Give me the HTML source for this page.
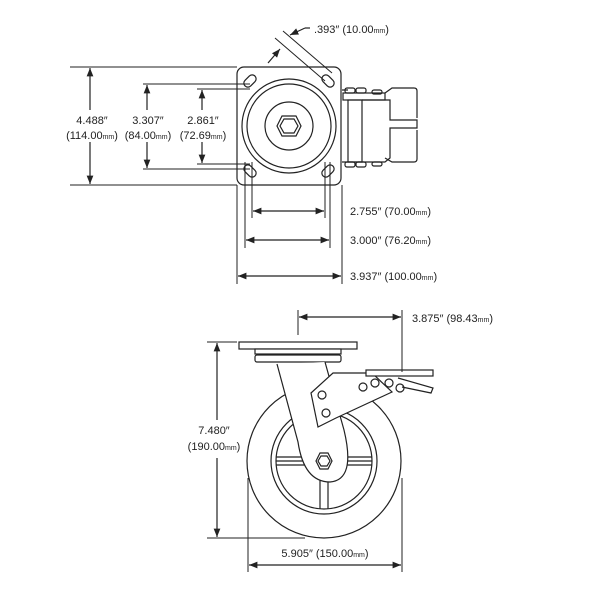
<!DOCTYPE html>
<html><head><style>
body{margin:0;background:#fff;}
svg{display:block;}
text{font-family:"Liberation Sans",sans-serif;font-size:11px;fill:#222;}
.s{font-size:7px;}
</style></head><body>
<svg width="600" height="600" viewBox="0 0 600 600" xmlns="http://www.w3.org/2000/svg">
<defs>
<marker id="a" viewBox="0 0 10 10" refX="10" refY="5" markerWidth="7" markerHeight="7" orient="auto-start-reverse"><path d="M0,1 L10,5 L0,9 z" fill="#222"/></marker>
</defs>
<g stroke="#222" fill="none" stroke-width="1.2">
<!-- TOP VIEW -->
<rect x="237" y="67" width="104" height="118" rx="7" fill="#fff"/>
<circle cx="289" cy="126" r="47"/>
<circle cx="289" cy="126" r="42"/>
<circle cx="289" cy="126" r="24"/>
<polygon points="282,116 296,116 301,126 296,136 282,136 277,126"/>
<polygon points="284,119 294,119 298,126 294,133 284,133 280,126"/>
<rect x="243" y="77" width="14" height="8" rx="4" transform="rotate(-45 250 81)"/>
<rect x="321" y="77" width="14" height="8" rx="4" transform="rotate(45 328 81)"/>
<rect x="243" y="167" width="14" height="8" rx="4" transform="rotate(45 250 171)"/>
<rect x="321" y="167" width="14" height="8" rx="4" transform="rotate(-45 328 171)"/>
<!-- brake side -->
<path d="M342,90 H348 M342,162 H362"/>
<rect x="343" y="93" width="42" height="7"/>
<rect x="348" y="100" width="14" height="62"/>
<path d="M362,100 H390 V120 H417 V128 H390 V158 L385,162 H362"/>
<path d="M385,93 L392,88 H414 Q417,88 417,91 V118 M417,130 V159 Q417,162 414,162 H392 L385,158"/>
<rect x="345" y="88" width="10" height="5" rx="2"/><rect x="356" y="88" width="10" height="5" rx="2"/><rect x="372" y="90" width="10" height="4" rx="2"/>
<rect x="345" y="162" width="10" height="5" rx="2"/><rect x="356" y="162" width="10" height="5" rx="2"/><rect x="372" y="162" width="10" height="4" rx="2"/>
<!-- diag .393 -->
<path d="M275,38 L325,81 M283,31 L332,73" stroke-width="1"/>
<path d="M268,63 L280,49" marker-end="url(#a)"/>
<path d="M305,28 L290,35" marker-end="url(#a)"/>
<path d="M305,28 H310"/>
<!-- vertical dims top -->
<path d="M70,67 H237 M70,185 H237 M143,84 H250 M143,169 H250 M197,89 H250 M197,164 H250" stroke-width="1"/>
<path d="M90,110 V68" marker-end="url(#a)"/><path d="M90,142 V184" marker-end="url(#a)"/>
<path d="M147,110 V85" marker-end="url(#a)"/><path d="M147,142 V168" marker-end="url(#a)"/>
<path d="M202,110 V90" marker-end="url(#a)"/><path d="M202,142 V163" marker-end="url(#a)"/>
<!-- horizontal dims top -->
<path d="M252,162 V218 M325,162 V218 M245,162 V248 M330,162 V248 M237,185 V284 M342,185 V284" stroke-width="1"/>
<path d="M253,211 H324" marker-start="url(#a)" marker-end="url(#a)"/>
<path d="M246,240 H329" marker-start="url(#a)" marker-end="url(#a)"/>
<path d="M238,276 H341" marker-start="url(#a)" marker-end="url(#a)"/>
<!-- SIDE VIEW -->
<circle cx="324" cy="461" r="77" fill="#fff"/>
<circle cx="324" cy="461" r="53"/>
<circle cx="324" cy="461" r="48"/>
<path d="M276,461 H372 M320,461 V509 M328,461 V509 M276,457 H372 M276,465 H372"/>
<rect x="239" y="342" width="118" height="7" fill="#fff"/>
<rect x="255" y="349" width="86" height="5" fill="#fff"/>
<rect x="255" y="355" width="86" height="7" rx="2" fill="#fff"/>
<path d="M277,364 L298,442 Q304,482 330,482 Q356,480 344,430 L325,362" fill="#fff"/>
<polygon points="311,393 333,373 372,373 392,392 336,418 318,427" fill="#fff"/>
<circle cx="322" cy="395" r="4"/><circle cx="326" cy="413" r="4"/><circle cx="363" cy="387" r="4"/>
<circle cx="375" cy="383" r="4"/><circle cx="389" cy="383" r="4"/><circle cx="400" cy="388" r="4"/>
<rect x="366" y="370" width="67" height="6" fill="#fff"/>
<path d="M398,378 L433,388 L431,393 L402,387"/>
<polygon points="318,461 321,456 327,456 330,461 327,466 321,466"/>
<polygon points="316,461 320,453 328,453 332,461 328,469 320,469"/>
<!-- side dims -->
<path d="M207,342 H237 M207,538 H305 M248,478 V572 M402,478 V572 M298,310 V335 M402,310 V372" stroke-width="1"/>
<path d="M217,420 V343" marker-end="url(#a)"/><path d="M217,458 V537" marker-end="url(#a)"/>
<path d="M249,565 H401" marker-start="url(#a)" marker-end="url(#a)"/>
<path d="M299,317 H401" marker-start="url(#a)" marker-end="url(#a)"/>
</g>
<!-- labels -->
<text x="314" y="33">.393″ (10.00<tspan class="s">mm</tspan>)</text>
<text x="92" y="124" text-anchor="middle">4.488″</text>
<text x="92" y="139" text-anchor="middle">(114.00<tspan class="s">mm</tspan>)</text>
<text x="148" y="124" text-anchor="middle">3.307″</text>
<text x="148" y="139" text-anchor="middle">(84.00<tspan class="s">mm</tspan>)</text>
<text x="203" y="124" text-anchor="middle">2.861″</text>
<text x="203" y="139" text-anchor="middle">(72.69<tspan class="s">mm</tspan>)</text>
<text x="350" y="215">2.755″ (70.00<tspan class="s">mm</tspan>)</text>
<text x="350" y="244">3.000″ (76.20<tspan class="s">mm</tspan>)</text>
<text x="350" y="280">3.937″ (100.00<tspan class="s">mm</tspan>)</text>
<text x="412" y="322">3.875″ (98.43<tspan class="s">mm</tspan>)</text>
<text x="214" y="434" text-anchor="middle">7.480″</text>
<text x="214" y="450" text-anchor="middle">(190.00<tspan class="s">mm</tspan>)</text>
<text x="325" y="557" text-anchor="middle">5.905″ (150.00<tspan class="s">mm</tspan>)</text>
</svg>
</body></html>
